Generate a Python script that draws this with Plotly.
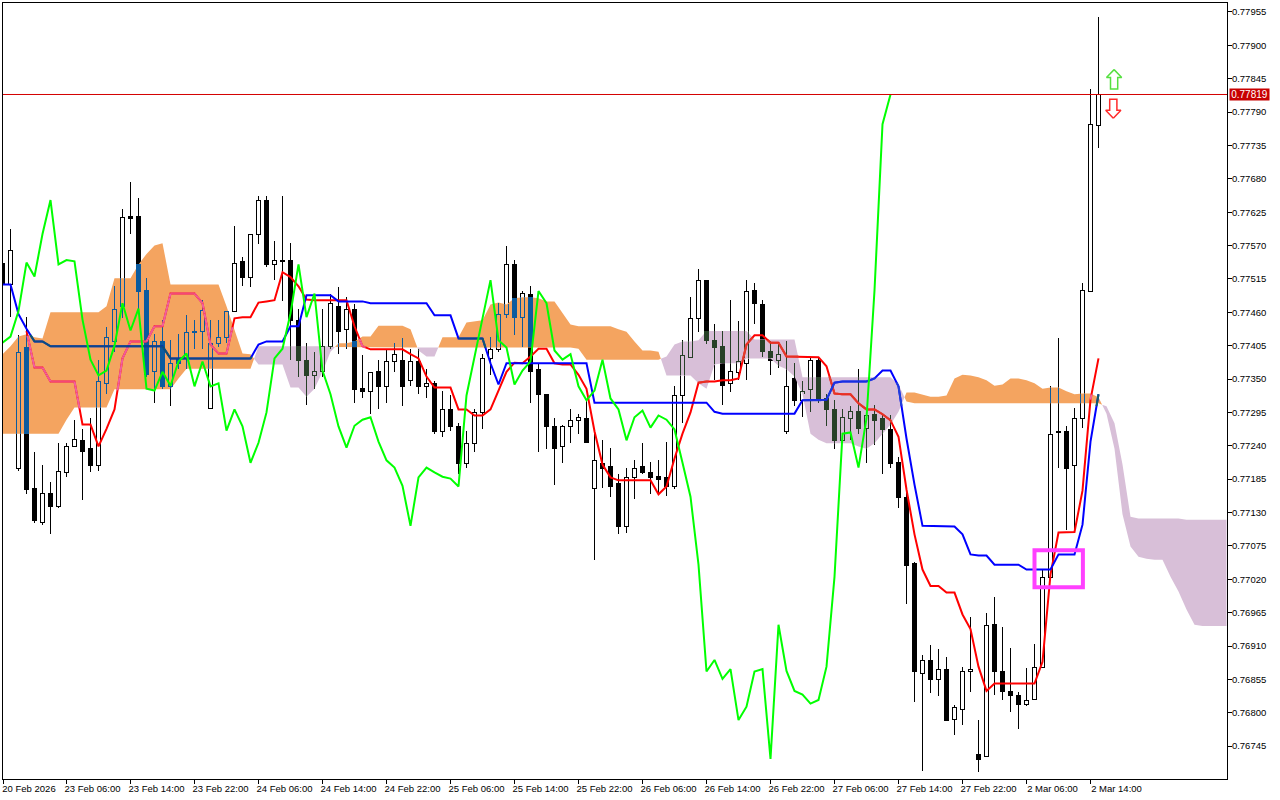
import numpy as np
import plotly.graph_objects as go

# All prices in points (price = value / 100000)
open_pts = [77542,77506,77203,77402,77171,77115,77163,77140,77197,77239,77250,77237,77209,77343,77412,77470,77618,77618,77496,77364,77412,77339,77384,77384,77430,77430,77303,77410,77420,77462,
77544,77519,77589,77645,77539,77547,77546,77448,77382,77356,77364,77405,77471,77433,77466,77336,77331,77364,77338,77379,77381,77349,77379,77338,77343,77265,77301,77273,77212,77245,
77295,77384,77400,77458,77539,77452,77490,77366,77326,77272,77239,77273,77283,77285,77171,77212,77206,77178,77108,77188,77206,77197,77191,77188,77174,77323,77387,77450,77513,77415,
77405,77343,77362,77377,77496,77473,77397,77382,77264,77351,77316,77333,77382,77318,77301,77250,77285,77298,77270,77293,77285,77268,77214,77156,77046,76866,76887,76856,76872,76790,
76806,76868,76732,76729,76947,76869,76836,76830,76815,76823,76876,77024,77265,77265,77209,77285,77495,77768]
high_pts = [77560,77598,77422,77452,77229,77209,77181,77245,77245,77282,77268,77285,77382,77435,77503,77631,77674,77648,77516,77425,77448,77415,77425,77455,77448,77481,77448,77448,77462,77602,
77551,77589,77651,77651,77577,77651,77575,77466,77410,77394,77465,77490,77501,77486,77473,77389,77362,77382,77399,77410,77417,77399,77400,77367,77346,77330,77323,77277,77265,77300,
77391,77420,77475,77569,77546,77495,77503,77374,77326,77285,77275,77301,77293,77313,77265,77250,77237,77194,77204,77216,77244,77214,77216,77247,77339,77415,77486,77532,77514,77440,
77430,77480,77445,77513,77508,77481,77412,77407,77412,77377,77346,77387,77384,77325,77316,77301,77306,77367,77301,77308,77290,77290,77222,77163,77049,76896,76912,76905,76892,76813,
76876,76957,76788,76965,76990,76942,76907,76834,76874,76914,77036,77339,77417,77273,77303,77509,77828,77947]
low_pts = [77494,77453,77199,77160,77113,77110,77094,77138,77189,77239,77150,77197,77199,77325,77395,77450,77589,77466,77354,77310,77334,77306,77367,77367,77400,77400,77303,77402,77409,77462,
77504,77501,77572,77534,77514,77478,77382,77354,77308,77334,77354,77400,77392,77399,77311,77318,77293,77300,77311,77361,77305,77339,77326,77318,77259,77255,77265,77193,77203,77230,
77268,77357,77394,77450,77422,77402,77310,77230,77235,77176,77212,77244,77259,77244,77051,77171,77156,77094,77097,77153,77193,77160,77161,77158,77169,77278,77387,77427,77407,77348,
77308,77328,77349,77348,77440,77387,77357,77369,77260,77306,77287,77295,77310,77273,77235,77247,77250,77259,77212,77242,77194,77203,77138,76980,76818,76704,76833,76828,76787,76764,
76780,76834,76703,76729,76829,76821,76801,76773,76811,76823,76876,77024,77204,77102,77098,77270,77495,77730]
close_pts = [77506,77562,77395,77168,77118,77163,77141,77199,77239,77252,77232,77209,77346,77420,77466,77617,77615,77495,77359,77412,77339,77377,77376,77428,77427,77463,77410,77420,77462,77542,
77519,77589,77645,77539,77546,77544,77448,77382,77356,77364,77405,77475,77430,77466,77334,77331,77362,77339,77379,77392,77338,77379,77338,77343,77265,77300,77272,77212,77245,77295,
77384,77400,77458,77539,77452,77491,77364,77325,77272,77237,77273,77283,77287,77247,77216,77204,77174,77108,77188,77204,77196,77189,77186,77173,77323,77389,77450,77513,77414,77402,
77341,77364,77379,77495,77475,77397,77382,77391,77338,77315,77331,77382,77318,77300,77249,77287,77298,77270,77290,77283,77267,77212,77156,77044,76868,76887,76856,76872,76788,76810,
76868,76872,76724,76945,76869,76836,76830,76815,76821,76876,77024,77260,77262,77204,77285,77496,77770,77819]

tenkan_pts = [None,None,None,77429,77369,77369,77346,77346,77346,77346,77275,77275,77239,77268,77300,77384,77412,77412,77412,77437,77437,77491,77491,77491,77491,77475,77407,77392,77392,77450,
77452,77452,77476,77478,77480,77526,77518,77503,77481,77480,77480,77480,77480,77480,77437,77404,77399,77399,77399,77399,77399,77391,77384,77354,77336,77336,77336,77300,77300,77290,
77290,77300,77330,77362,77377,77376,77387,77400,77400,77376,77374,77374,77357,77334,77264,77209,77188,77183,77183,77183,77183,77183,77160,77173,77219,77260,77295,77344,77346,77346,
77348,77348,77351,77407,77422,77422,77410,77410,77387,77387,77387,77387,77386,77371,77326,77325,77325,77310,77300,77300,77292,77282,77255,77168,77094,77036,77009,77009,76998,76998,
76962,76938,76876,76836,76848,76848,76848,76848,76848,76848,76884,77028,77097,77097,77098,77166,77316,77384]
kijun_pts = [77506,77506,77457,77433,77412,77412,77404,77404,77404,77404,77404,77404,77404,77404,77404,77404,77404,77404,77404,77404,77404,77384,77384,77384,77384,77384,77384,77384,77384,77384,
77384,77384,77407,77412,77412,77412,77437,77437,77488,77488,77488,77488,77478,77478,77478,77478,77475,77475,77475,77475,77475,77475,77475,77475,77455,77455,77455,77417,77417,77417,
77417,77376,77341,77376,77376,77376,77376,77376,77376,77376,77376,77376,77376,77376,77311,77311,77311,77311,77311,77311,77311,77311,77311,77311,77311,77311,77311,77311,77311,77296,
77293,77293,77293,77293,77293,77293,77293,77293,77293,77293,77315,77315,77315,77316,77344,77346,77346,77346,77346,77351,77364,77364,77338,77252,77176,77108,77108,77108,77108,77107,
77094,77061,77059,77059,77044,77044,77044,77044,77036,77036,77036,77036,77061,77061,77061,77110,77247,77325]

senkou_a_pts = [77391,77404,77420,77424,77419,77417,77460,77460,77460,77460,77460,77460,77460,77470,77516,77516,77516,77539,77556,77570,77574,77506,77506,77506,77506,77506,77506,77506,77470,77432,
77392,77391,77374,77374,77374,77374,77336,77336,77321,77334,77362,77395,77409,77409,77412,77420,77420,77438,77438,77438,77438,77432,77397,77387,77387,77419,77419,77419,77443,77445,
77447,77473,77476,77473,77483,77485,77485,77483,77478,77478,77458,77440,77437,77437,77437,77437,77437,77432,77428,77412,77397,77397,77395,77356,77356,77356,77356,77343,77334,77374,
77376,77376,77376,77384,77384,77384,77384,77372,77366,77354,77325,77260,77250,77244,77244,77244,77244,77239,77235,77244,77260,77275,77296,77328,77328,77325,77321,77321,77323,77351,
77357,77356,77353,77348,77339,77341,77351,77351,77348,77343,77334,77336,77336,77330,77325,77326,77326,77320,77293,77235,77127,77074,77057,77054,77052,77052,77024,77000,76970,76945,
76943,76943,76943,76943]
senkou_b_pts = [77260,77260,77260,77260,77260,77260,77260,77260,77283,77303,77303,77303,77303,77303,77333,77333,77333,77333,77333,77333,77333,77333,77351,77367,77367,77367,77367,77367,77367,77367,
77367,77367,77404,77404,77404,77404,77404,77404,77404,77404,77404,77404,77402,77402,77402,77402,77402,77402,77402,77402,77402,77402,77402,77402,77402,77402,77402,77402,77402,77402,
77402,77402,77402,77402,77402,77402,77402,77402,77402,77402,77402,77402,77400,77382,77382,77382,77382,77382,77382,77382,77382,77382,77382,77387,77407,77412,77412,77414,77429,77429,
77429,77429,77429,77429,77415,77415,77415,77415,77415,77415,77353,77353,77353,77353,77353,77353,77353,77353,77353,77353,77353,77353,77341,77313,77310,77310,77310,77310,77310,77310,
77310,77310,77310,77310,77310,77310,77310,77310,77310,77310,77310,77310,77310,77310,77310,77310,77310,77310,77305,77277,77209,77123,77120,77120,77120,77120,77120,77120,77118,77118,
77118,77118,77118,77118]

x_tick_labels = ["20 Feb 2026","23 Feb 06:00","23 Feb 14:00","23 Feb 22:00","24 Feb 06:00","24 Feb 14:00","24 Feb 22:00","25 Feb 06:00","25 Feb 14:00","25 Feb 22:00","26 Feb 06:00","26 Feb 14:00","26 Feb 22:00","27 Feb 06:00","27 Feb 14:00","27 Feb 22:00","2 Mar 06:00","2 Mar 14:00"]
y_tick_pts = [77955,77900,77845,77790,77735,77680,77625,77570,77515,77460,77405,77350,77295,77240,77185,77130,77075,77020,76965,76910,76855,76800,76745]
last_price_pts = 77819

P = 1e-5
O, H, L, C = [np.array(v, float)*P for v in (open_pts, high_pts, low_pts, close_pts)]
A = np.array(senkou_a_pts, float)*P
B = np.array(senkou_b_pts, float)*P
n = len(C)
cidx = np.arange(len(A))
tenkan = [None if v is None else v*P for v in tenkan_pts]
kijun = [v*P for v in kijun_pts]
chikou = list(C[26:])          # lagging span: close shifted 26 bars back

ORANGE, THISTLE = "#F4A460", "#D8BFD8"
XOR = {"o": "#0B5B9F", "p": "#274027"}
Y_RANGE = [0.7669080, 0.7796980]
ROW = (Y_RANGE[1]-Y_RANGE[0])/776      # price height of one screen row

def snap(p):
    """Round a price to a whole screen row so candle edges stay crisp."""
    return Y_RANGE[1]-round((Y_RANGE[1]-p)/ROW)*ROW

fig = go.Figure()

def segs(pairs):
    xs, ys = [], []
    for x, a, b in pairs:
        xs += [x, x, None]; ys += [a, b, None]
    return xs, ys

def body_edges(i):
    top, bot = max(O[i], C[i]), min(O[i], C[i])
    st = snap(top); sb = snap(bot)-ROW
    return st, sb

wick_pairs = [(i, snap(L[i]), snap(H[i])) for i in range(n)]
outer_pairs, inner_pairs = [], []
for i in range(n):
    st, sb = body_edges(i)
    outer_pairs.append((i, sb, st))
    if C[i] >= O[i] and st-sb > 2.5*ROW:
        inner_pairs.append((i, sb+ROW, st-ROW))
for pairs, col, w in ((wick_pairs, "black", 1), (outer_pairs, "black", 5), (inner_pairs, "white", 3)):
    xs, ys = segs(pairs)
    fig.add_trace(go.Scatter(x=xs, y=ys, mode="lines", line=dict(color=col, width=w), hoverinfo="skip"))

# Cloud: contiguous runs of one sign, closed as a polygon
def cloud_runs():
    pts = []
    for i in range(len(A)):
        pts.append((float(i), A[i], B[i]))
        if i+1 < len(A):
            d0, d1 = A[i]-B[i], A[i+1]-B[i+1]
            if d0*d1 < 0:
                t = d0/(d0-d1)
                v = A[i]+t*(A[i+1]-A[i])
                pts.append((i+t, v, v))
    runs, cur, sign = [], [], 0
    for p in pts:
        d = p[1]-p[2]
        s = 0 if d == 0 else (1 if d > 0 else -1)
        if s == 0:
            cur.append(p)
            if cur and sign != 0 and len(cur) > 1:
                runs.append((sign, cur))
            cur, sign = [p], 0
            continue
        if sign == 0:
            sign = s
        cur.append(p)
    if len(cur) > 1:
        runs.append((sign, cur))
    return runs

for kind, col in ((1, ORANGE), (-1, THISTLE)):
    xs, ys = [], []
    for s, run in cloud_runs():
        if s == kind:
            xs += [p[0] for p in run] + [p[0] for p in run[::-1]] + [None]
            ys += [p[1] for p in run] + [p[2] for p in run[::-1]] + [None]
    fig.add_trace(go.Scatter(x=xs, y=ys, mode="lines", line=dict(width=0), fill="toself",
                             fillcolor=col, hoverinfo="skip"))

# Black candle pixels show through the cloud in an inverted colour
thin = {"o": ([], []), "p": ([], [])}
thick = {"o": ([], []), "p": ([], [])}
HALF = 0.25
for i in range(min(n, len(A))):
    lo, hi = snap(min(A[i], B[i])), snap(max(A[i], B[i]))
    k = "o" if A[i] >= B[i] else "p"
    top, bot = body_edges(i)
    wh, wl = snap(H[i]), snap(L[i])
    tx, ty = thin[k]
    for a, b in ((max(top, lo), min(wh, hi)), (max(wl, lo), min(bot, hi))):
        if b > a:
            tx += [i, i, None]; ty += [a, b, None]
    a, b = max(bot, lo), min(top, hi)
    if C[i] < O[i]:
        if b > a:
            thick[k][0].extend([i, i, None]); thick[k][1].extend([a, b, None])
    elif b > a:
        for dx in (-HALF, HALF):
            tx += [i+dx, i+dx, None]; ty += [a, b, None]
        for e in (top-ROW/2, bot+ROW/2):
            if lo <= e <= hi:
                tx += [i-HALF-0.0625, i+HALF+0.0625, None]; ty += [e, e, None]
for k in "op":
    fig.add_trace(go.Scatter(x=thin[k][0], y=thin[k][1], mode="lines", line=dict(color=XOR[k], width=1), hoverinfo="skip"))
    fig.add_trace(go.Scatter(x=thick[k][0], y=thick[k][1], mode="lines", line=dict(color=XOR[k], width=5), hoverinfo="skip"))

def in_cloud(vals, want):
    """Parts of a line lying inside the cloud of one colour."""
    xs, ys = [], []
    for i in range(len(vals)-1):
        if vals[i] is None or vals[i+1] is None:
            continue
        for j in range(8):
            t0, t1 = j/8, (j+1)/8
            xa, xb = i+t0, i+t1
            ya = vals[i]+t0*(vals[i+1]-vals[i]); yb = vals[i]+t1*(vals[i+1]-vals[i])
            xm, ym = (xa+xb)/2, (ya+yb)/2
            am, bm = np.interp(xm, cidx, A), np.interp(xm, cidx, B)
            if min(am, bm) <= ym <= max(am, bm) and (am >= bm) == want:
                xs += [xa, xb, None]; ys += [ya, yb, None]
    return xs, ys

def add_line(vals, col, col_o, col_p):
    fig.add_trace(go.Scatter(x=list(range(len(vals))), y=vals, mode="lines", line=dict(color=col, width=2), connectgaps=False, hoverinfo="skip"))
    for want, c in ((True, col_o), (False, col_p)):
        xs, ys = in_cloud(vals, want)
        fig.add_trace(go.Scatter(x=xs, y=ys, mode="lines", line=dict(color=c, width=2), hoverinfo="skip"))

add_line(tenkan, "#FF0000", "#F0609F", "#E04030")
add_line(kijun, "#0000FF", "#0F5F66", "#2040D8")
fig.add_trace(go.Scatter(x=list(range(len(chikou))), y=chikou, mode="lines", line=dict(color="#00FF00", width=2), hoverinfo="skip"))

# Buy / sell arrows
up_x, up_tip, up_base = 138.95, 0.77860, 0.77828
dn_x, dn_tip, dn_base = 138.85, 0.77780, 0.77811
hw, sw, hl = 0.95, 0.45, 0.00013
fig.add_trace(go.Scatter(x=[up_x, up_x+hw, up_x+sw, up_x+sw, up_x-sw, up_x-sw, up_x-hw, up_x],
                         y=[up_tip, up_tip-hl, up_tip-hl, up_base, up_base, up_tip-hl, up_tip-hl, up_tip],
                         mode="lines", fill="toself", fillcolor="white", line=dict(color="#55E040", width=1.5), hoverinfo="skip"))
fig.add_trace(go.Scatter(x=[dn_x, dn_x+hw, dn_x+sw, dn_x+sw, dn_x-sw, dn_x-sw, dn_x-hw, dn_x],
                         y=[dn_tip, dn_tip+hl, dn_tip+hl, dn_base, dn_base, dn_tip+hl, dn_tip+hl, dn_tip],
                         mode="lines", fill="toself", fillcolor="white", line=dict(color="#FF2A2A", width=1.5), hoverinfo="skip"))

FONT = "Liberation Sans"
fig.add_shape(type="line", xref="paper", x0=0, x1=1, yref="y", y0=last_price_pts*P, y1=last_price_pts*P,
              line=dict(color="#D40000", width=1), layer="above")
fig.add_shape(type="rect", xref="x", yref="y", x0=129, x1=135.05, y0=0.77007, y1=0.77068,
              line=dict(color="#FF40FF", width=4), fillcolor="rgba(0,0,0,0)", layer="above")
fig.add_annotation(xref="paper", yref="y", x=1.0015, y=last_price_pts*P, xanchor="left", yanchor="middle",
                   text=f"{last_price_pts*P:.5f}", showarrow=False, bgcolor="#C80000", width=39, height=11,
                   font=dict(family=FONT, size=10, color="white"), borderpad=0)

x_start = 0.0625
fig.update_layout(
    width=1280, height=800, paper_bgcolor="white", plot_bgcolor="white",
    margin=dict(l=3, r=53, t=3, b=21, pad=0), showlegend=False,
    xaxis=dict(range=[x_start, x_start+153], showgrid=False, zeroline=False,
               tickmode="array", tickvals=[max(i*8, x_start) for i in range(len(x_tick_labels))], ticktext=x_tick_labels,
               ticks="outside", ticklen=4, tickcolor="black", tickwidth=1, tickangle=0,
               showline=True, linecolor="black", linewidth=1, mirror=True, ticklabelshift=26, ticklabelstandoff=-3,
               tickfont=dict(family=FONT, size=9.5, color="black")),
    yaxis=dict(range=Y_RANGE, side="right", showgrid=False, zeroline=False,
               tickmode="array", tickvals=[v*P for v in y_tick_pts], tickformat=".5f",
               ticks="outside", ticklen=4, tickcolor="black", tickwidth=1,
               showline=True, linecolor="black", linewidth=1, mirror=True, ticklabelstandoff=-2,
               tickfont=dict(family=FONT, size=9.5, color="black")),
)
fig.write_html("out.html", config=dict(displayModeBar=False), post_script="document.body.style.margin='0';")
